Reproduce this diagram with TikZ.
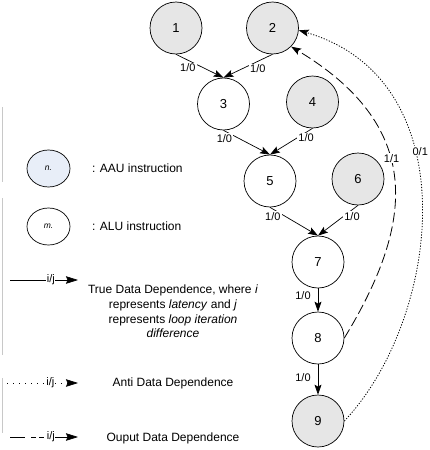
\documentclass[tikz,border=0pt]{standalone}
\usepackage{fontspec}
\setmainfont{Liberation Sans}
\usetikzlibrary{arrows.meta,shapes.geometric}
\definecolor{opgray}{HTML}{E6E6E6}
\definecolor{aaublue}{HTML}{E8EEF8}
\definecolor{framegray}{HTML}{C8C8C8}

\begin{document}
\begin{tikzpicture}[x=1pt,y=-1pt,
  op/.style={circle,draw,line width=0.7pt,minimum size=52pt,inner sep=0pt,
    font=\fontsize{13}{15}\selectfont},
  aauop/.style={op,fill=opgray},
  aluop/.style={op,fill=white},
  dep/.style={line width=0.7pt,-{Stealth[length=10pt,width=7pt,inset=2pt]}},
  antidep/.style={dep,line width=0.8pt,dash pattern=on 1.2pt off 1.6pt},
  outdep/.style={dep,line width=0.8pt,dash pattern=on 10pt off 4pt},
  lbl/.style={font=\fontsize{11}{13}\selectfont,fill=white,inner sep=1pt},
  legcirc/.style={ellipse,draw,line width=0.7pt,minimum width=43pt,minimum height=37pt,
    inner sep=0pt,font=\fontsize{8.5}{10}\selectfont\itshape},
  legtext/.style={font=\fontsize{12}{14.6}\selectfont,inner sep=0pt},
  legarrow/.style={line width=0.7pt,-{Stealth[length=12pt,width=7.5pt,inset=1.5pt]}},
  ij/.style={font=\fontsize{11}{13}\selectfont,fill=white,inner sep=0.6pt}
]
\useasboundingbox (0,0) rectangle (429,450);

% faint frame on the left edge
\draw[framegray,line width=0.6pt] (2,107) -- (2,182);
\draw[framegray,line width=0.6pt] (2,198) -- (2,355);
\draw[framegray,line width=0.6pt] (2,378) -- (2,433);

% instruction nodes
\node[aauop] (n1) at (176,28) {1};
\node[aauop] (n2) at (272.5,28) {2};
\node[aluop] (n3) at (223.5,104) {3};
\node[aauop] (n4) at (312.5,102) {4};
\node[aluop] (n5) at (270,181) {5};
\node[aauop] (n6) at (358,179) {6};
\node[aluop] (n7) at (318,262) {7};
\node[aluop] (n8) at (318,338) {8};
\node[aauop] (n9) at (318,421) {9};

% true data dependences
\draw[dep] (n1.south) -- node[lbl,pos=0.25,below=2pt]{1/0} (n3.north);
\draw[dep] (n2.south) -- node[lbl,pos=0.3,below=2pt]{1/0} (n3.north);
\draw[dep] (n3.south) -- node[lbl,pos=0.02,below=2pt]{1/0} (n5.north);
\draw[dep] (n4.south) -- node[lbl,pos=0.15,below=0pt]{1/0} (n5.north);
\draw[dep] (n5.south) -- node[lbl,pos=0.06,below=2pt]{1/0} (n7.north);
\draw[dep] (n6.south) -- node[lbl,pos=0.15,below=1pt]{1/0} (n7.north);
\draw[dep] (n7.south) -- node[lbl,pos=0.33,left=6pt]{1/0} (n8.north);
\draw[dep] (n8.south) -- node[lbl,pos=0.45,left=6pt]{1/0} (n9.north);

% output dependence 8 -> 2
\draw[outdep] (n8.east) .. controls (410,230) and (430,130) ..
  node[lbl,pos=0.585,xshift=1.5pt]{1/1} (n2.-45);
% anti dependence 9 -> 2
\draw[antidep] (n9.east) .. controls (440,320) and (470,80) ..
  node[lbl,pos=0.62,xshift=6pt]{0/1} (n2.-5);

% legend: node kinds
\node[legcirc,fill=aaublue] (legaau) at (48.5,168.5) {n.};
\node[legcirc,fill=white] (legalu) at (48.5,226.5) {m.};
\node[legtext,anchor=west] (legaautxt) at (92,168.5) {: AAU instruction};
\node[legtext,anchor=west] (legalutxt) at (92,226.5) {: ALU instruction};

% legend: edge kinds
\coordinate (t0) at (10,280);
\coordinate (t1) at (78,280);
\draw[legarrow] (t0) -- node[ij,pos=0.6]{i/j} (t1);
\node[legtext,align=center] (truetxt) at (173,311.5)
  {True Data Dependence, where \textit{i}\\
   represents \textit{latency} and \textit{j}\\
   represents \textit{loop iteration}\\
   \textit{difference}};

\coordinate (a0) at (7,383);
\coordinate (a1) at (78,383);
\draw[legarrow,dash pattern=on 0.9pt off 5.1pt] (a0) -- node[ij,pos=0.61]{i/j} (a1);
\node[legtext] (antitxt) at (173,383.5) {Anti Data Dependence};

\coordinate (o0) at (10,437);
\coordinate (o1) at (78,437);
\draw[legarrow,dash pattern=on 15pt off 6pt on 5pt off 3pt on 5pt off 2pt on 40pt]
  (o0) -- node[ij,pos=0.6]{i/j} (o1);
\node[legtext] (outtxt) at (173,438) {Ouput Data Dependence};
\end{tikzpicture}
\end{document}
